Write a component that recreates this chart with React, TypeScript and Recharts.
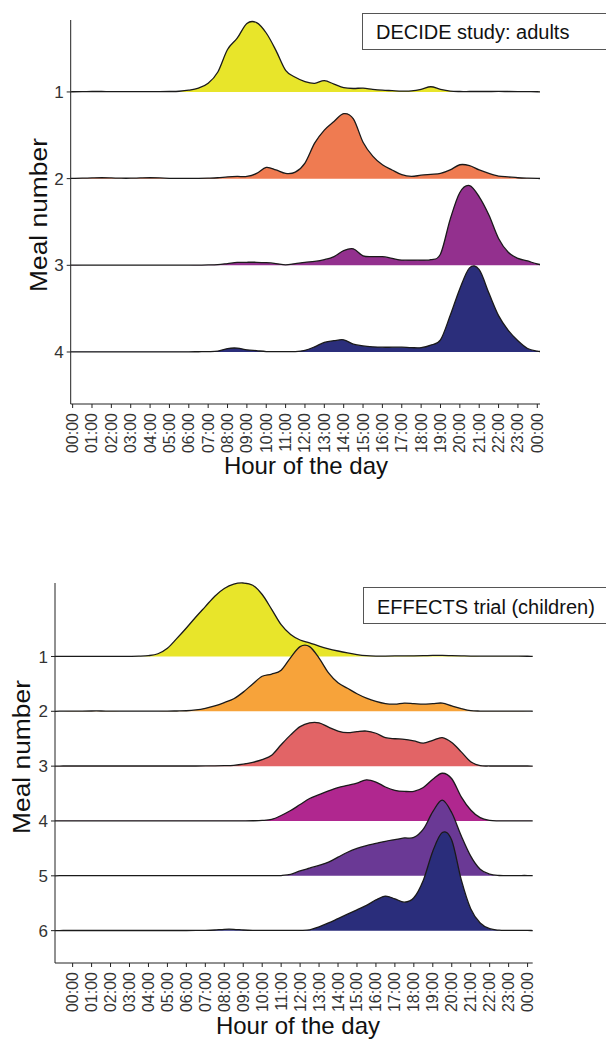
import React from "react";
import { ComposedChart, Area, XAxis, YAxis } from "recharts";

const FONT = "'Liberation Sans', Arial, Helvetica, sans-serif";

// x grid of the density curves (hour of the day)
const HOURS = [
  -1, -0.5,
  0, 0.5, 1, 1.5, 2, 2.5, 3, 3.5, 4, 4.5,
  5, 5.5, 6, 6.5, 7, 7.5, 8, 8.5, 9, 9.5,
  10, 10.5, 11, 11.5, 12, 12.5, 13, 13.5, 14, 14.5,
  15, 15.5, 16, 16.5, 17, 17.5, 18, 18.5, 19, 19.5,
  20, 20.5, 21, 21.5, 22, 22.5, 23, 23.5, 24, 24.5,
];

const HOUR_TICKS = [0, 1, 2, 3, 4, 5, 6, 7, 8, 9, 10, 11, 12, 13, 14, 15, 16, 17, 18, 19, 20, 21, 22, 23, 24];
const HOUR_LABELS = [
  "00:00", "01:00", "02:00", "03:00", "04:00", "05:00", "06:00", "07:00", "08:00",
  "09:00", "10:00", "11:00", "12:00", "13:00", "14:00", "15:00", "16:00", "17:00",
  "18:00", "19:00", "20:00", "21:00", "22:00", "23:00", "00:00",
];

// DECIDE study: adults (ridge heights, in units of the row spacing)
const ADULT_MEALS = ["1", "2", "3", "4"];
const ADULT_COLORS = ["#E8E52A", "#EF7B51", "#93308E", "#2B2E7B"];
const ADULT_MEAL1 = [
  0, 0,
  0.002, 0.003, 0.005, 0.005, 0.004, 0.003, 0.003, 0.003, 0.004, 0.004,
  0.005, 0.008, 0.02, 0.045, 0.1, 0.23, 0.49, 0.62, 0.79, 0.8,
  0.68, 0.48, 0.25, 0.17, 0.12, 0.1, 0.13, 0.09, 0.05, 0.04,
  0.045, 0.03, 0.02, 0.015, 0.01, 0.012, 0.03, 0.06, 0.03, 0.01,
  0.005, 0.005, 0.005, 0.005, 0.006, 0.005, 0.004, 0.003, 0.002, 0,
];
const ADULT_MEAL2 = [
  0, 0.002,
  0.003, 0.005, 0.008, 0.01, 0.008, 0.005, 0.005, 0.008, 0.01, 0.008,
  0.004, 0.003, 0.003, 0.004, 0.006, 0.01, 0.02, 0.025, 0.025, 0.06,
  0.13, 0.1, 0.06, 0.075, 0.18, 0.41, 0.56, 0.66, 0.75, 0.69,
  0.42, 0.26, 0.16, 0.1, 0.045, 0.025, 0.04, 0.05, 0.06, 0.1,
  0.16, 0.15, 0.1, 0.06, 0.03, 0.02, 0.01, 0.005, 0.002, 0,
];
const ADULT_MEAL3 = [
  0, 0.002,
  0.003, 0.002, 0.002, 0.002, 0.002, 0.002, 0.002, 0.002, 0.002, 0.002,
  0.002, 0.002, 0.002, 0.003, 0.004, 0.008, 0.02, 0.033, 0.035, 0.035,
  0.03, 0.02, 0.006, 0.02, 0.035, 0.045, 0.065, 0.1, 0.17, 0.19,
  0.11, 0.1, 0.1, 0.08, 0.06, 0.06, 0.06, 0.065, 0.13, 0.53,
  0.84, 0.92, 0.79, 0.58, 0.31, 0.15, 0.08, 0.05, 0.015, 0,
];
const ADULT_MEAL4 = [
  0, 0.002,
  0.002, 0.002, 0.002, 0.002, 0.002, 0.002, 0.002, 0.002, 0.002, 0.002,
  0.002, 0.002, 0.002, 0.003, 0.004, 0.01, 0.04, 0.045, 0.025, 0.015,
  0.005, 0.004, 0.004, 0.005, 0.02, 0.06, 0.11, 0.13, 0.14, 0.09,
  0.07, 0.06, 0.055, 0.055, 0.055, 0.05, 0.05, 0.08, 0.14, 0.42,
  0.73, 0.97, 0.95, 0.68, 0.42, 0.25, 0.13, 0.04, 0.01, 0,
];

// EFFECTS trial (children)
const CHILD_MEALS = ["1", "2", "3", "4", "5", "6"];
const CHILD_COLORS = ["#E8E52A", "#F7A33A", "#E26466", "#B0278F", "#6A3995", "#2A2D7B"];
const CHILD_MEAL1 = [
  0, 0.002,
  0.003, 0.003, 0.003, 0.003, 0.003, 0.003, 0.003, 0.005, 0.015, 0.05,
  0.15, 0.33, 0.52, 0.72, 0.91, 1.1, 1.24, 1.32, 1.34, 1.3,
  1.13, 0.86, 0.58, 0.4, 0.3, 0.25, 0.19, 0.14, 0.1, 0.065,
  0.035, 0.015, 0.008, 0.008, 0.01, 0.01, 0.012, 0.015, 0.02, 0.02,
  0.015, 0.01, 0.008, 0.005, 0.005, 0.005, 0.005, 0.005, 0.004, 0,
];
const CHILD_MEAL2 = [
  0, 0.003,
  0.004, 0.005, 0.006, 0.006, 0.004, 0.003, 0.003, 0.003, 0.003, 0.003,
  0.004, 0.006, 0.01, 0.025, 0.055, 0.1, 0.16, 0.23, 0.35, 0.5,
  0.64, 0.68, 0.75, 0.98, 1.18, 1.18, 0.97, 0.7, 0.52, 0.42,
  0.32, 0.24, 0.18, 0.14, 0.13, 0.15, 0.14, 0.13, 0.14, 0.15,
  0.1, 0.05, 0.012, 0.005, 0.004, 0.004, 0.004, 0.004, 0.003, 0,
];
const CHILD_MEAL3 = [
  0, 0.003,
  0.003, 0.003, 0.003, 0.003, 0.003, 0.003, 0.003, 0.003, 0.003, 0.003,
  0.003, 0.003, 0.003, 0.003, 0.004, 0.005, 0.008, 0.015, 0.035, 0.07,
  0.12, 0.2, 0.39, 0.57, 0.72, 0.79, 0.79, 0.71, 0.64, 0.61,
  0.63, 0.64, 0.6, 0.52, 0.5, 0.49, 0.46, 0.42, 0.47, 0.52,
  0.43, 0.26, 0.08, 0.01, 0.003, 0.003, 0.003, 0.003, 0.003, 0,
];
const CHILD_MEAL4 = [
  0, 0.003,
  0.003, 0.003, 0.003, 0.003, 0.003, 0.003, 0.003, 0.003, 0.003, 0.003,
  0.003, 0.003, 0.003, 0.003, 0.003, 0.003, 0.003, 0.003, 0.003, 0.004,
  0.01, 0.03, 0.1, 0.19, 0.3, 0.41, 0.48, 0.55, 0.61, 0.65,
  0.69, 0.75, 0.71, 0.62, 0.56, 0.54, 0.54, 0.61, 0.76, 0.87,
  0.77, 0.44, 0.2, 0.06, 0.01, 0.003, 0.003, 0.003, 0.003, 0,
];
const CHILD_MEAL5 = [
  0, 0.003,
  0.003, 0.003, 0.003, 0.003, 0.003, 0.003, 0.003, 0.003, 0.003, 0.003,
  0.003, 0.003, 0.003, 0.003, 0.003, 0.003, 0.003, 0.003, 0.003, 0.003,
  0.003, 0.003, 0.005, 0.025, 0.09, 0.14, 0.19, 0.25, 0.34, 0.43,
  0.5, 0.55, 0.59, 0.63, 0.66, 0.69, 0.7, 0.85, 1.17, 1.38,
  1.15, 0.73, 0.36, 0.12, 0.03, 0.006, 0.005, 0.005, 0.005, 0,
];
const CHILD_MEAL6 = [
  0, 0.003,
  0.003, 0.003, 0.003, 0.003, 0.003, 0.003, 0.003, 0.003, 0.003, 0.003,
  0.003, 0.003, 0.003, 0.004, 0.006, 0.012, 0.025, 0.025, 0.012, 0.005,
  0.004, 0.004, 0.004, 0.004, 0.006, 0.015, 0.07, 0.14, 0.22, 0.3,
  0.38, 0.46, 0.56, 0.63, 0.58, 0.52, 0.6, 0.92, 1.45, 1.79,
  1.65, 0.93, 0.4, 0.14, 0.035, 0.008, 0.005, 0.005, 0.004, 0,
];

// Catmull-Rom curve in the d3 curve-factory shape, so peaks stay rounded
// instead of flattening like the monotone interpolation does
function smoothCurve(context: any) {
  let line = NaN;
  let pts: number[][] = [];
  return {
    areaStart() { line = 0; },
    areaEnd() { line = NaN; },
    lineStart() { pts = []; },
    lineEnd() {
      const n = pts.length;
      if (n) {
        if (line) context.lineTo(pts[0][0], pts[0][1]);
        else context.moveTo(pts[0][0], pts[0][1]);
        for (let i = 0; i < n - 1; i++) {
          const p0 = pts[Math.max(i - 1, 0)];
          const p1 = pts[i];
          const p2 = pts[i + 1];
          const p3 = pts[Math.min(i + 2, n - 1)];
          context.bezierCurveTo(
            p1[0] + (p2[0] - p0[0]) / 6, p1[1] + (p2[1] - p0[1]) / 6,
            p2[0] - (p3[0] - p1[0]) / 6, p2[1] - (p3[1] - p1[1]) / 6,
            p2[0], p2[1],
          );
        }
      }
      if (line || (line !== 0 && n === 1)) context.closePath();
      line = 1 - line;
    },
    point(x: number, y: number) { pts.push([+x, +y]); },
  };
}

const HourTick = (props: any) => {
  const { x, y, payload } = props;
  const label = HOUR_LABELS[HOUR_TICKS.indexOf(payload.value)];
  return (
    <text
      transform={`translate(${x},${y + 3}) rotate(-90)`}
      textAnchor="end"
      dominantBaseline="central"
      fontSize={16}
      fill="#333"
      fontFamily={FONT}
    >
      {label}
    </text>
  );
};

type RidgeProps = {
  meals: string[];
  densities: number[][];
  colors: string[];
  height: number;
  margin: { top: number; right: number; bottom: number; left: number };
  yAxisWidth: number;
  xAxisHeight: number;
  xDomain: [number, number];
  yDomain: [number, number];
};

function Ridgeline({ meals, densities, colors, height, margin, yAxisWidth, xAxisHeight, xDomain, yDomain }: RidgeProps) {
  const n = meals.length;
  // meal 1 sits on the top row, the last meal on row 0
  const data = HOURS.map((hour, i) => {
    const row: Record<string, number> = { hour };
    densities.forEach((d, k) => {
      row[`m${k}`] = n - 1 - k + d[i];
    });
    return row;
  });
  const rowTicks = meals.map((_, k) => n - 1 - k).reverse();

  return (
    <ComposedChart width={606} height={height} data={data} margin={margin}>
      <XAxis
        dataKey="hour"
        type="number"
        domain={xDomain}
        allowDataOverflow
        ticks={HOUR_TICKS}
        interval={0}
        tick={<HourTick />}
        tickSize={4}
        height={xAxisHeight}
        stroke="#222"
        tickLine={{ stroke: "#222" }}
      />
      <YAxis
        type="number"
        domain={yDomain}
        ticks={rowTicks}
        interval={0}
        tickFormatter={(v: number) => meals[n - 1 - v]}
        width={yAxisWidth}
        tickSize={4}
        tickMargin={3}
        stroke="#222"
        tick={{ fontSize: 17, fill: "#333", fontFamily: FONT }}
      />
      {meals.map((m, k) => (
        <Area
          key={m}
          dataKey={`m${k}`}
          type={smoothCurve as any}
          baseValue={n - 1 - k}
          stroke="#1a1a1a"
          strokeWidth={1.3}
          fill={colors[k]}
          fillOpacity={1}
          dot={false}
          activeDot={false}
          isAnimationActive={false}
        />
      ))}
    </ComposedChart>
  );
}

export default function App() {
  return (
    <div
      style={{
        position: "absolute",
        left: 0,
        top: 0,
        width: 606,
        height: 1039,
        overflow: "hidden",
        background: "#fff",
      }}
    >
      <div style={{ position: "absolute", left: 0, top: 0 }}>
        <Ridgeline
          meals={ADULT_MEALS}
          densities={[ADULT_MEAL1, ADULT_MEAL2, ADULT_MEAL3, ADULT_MEAL4]}
          colors={ADULT_COLORS}
          height={500}
          margin={{ top: 20, right: 66, bottom: 0, left: 0 }}
          yAxisWidth={70.7}
          xAxisHeight={96}
          xDomain={[-0.1, 24.14]}
          yDomain={[-0.6, 3.83]}
        />
      </div>
      <div style={{ position: "absolute", left: 0, top: 540 }}>
        <Ridgeline
          meals={CHILD_MEALS}
          densities={[CHILD_MEAL1, CHILD_MEAL2, CHILD_MEAL3, CHILD_MEAL4, CHILD_MEAL5, CHILD_MEAL6]}
          colors={CHILD_COLORS}
          height={499}
          margin={{ top: 43, right: 73.3, bottom: 0, left: 0 }}
          yAxisWidth={55}
          xAxisHeight={76}
          xDomain={[-0.93, 24.27]}
          yDomain={[-0.59, 6.34]}
        />
      </div>
      <svg
        width={606}
        height={1039}
        style={{ position: "absolute", left: 0, top: 0, pointerEvents: "none" }}
        fontFamily={FONT}
      >
        <rect x={362.5} y={13.5} width={300} height={36} fill="#fff" stroke="#555" strokeWidth={1} />
        <text x={376} y={39} fontSize={20} fill="#111">DECIDE study: adults</text>
        <rect x={363.5} y={587.5} width={300} height={36} fill="#fff" stroke="#555" strokeWidth={1} />
        <text x={377} y={614} fontSize={20} fill="#111">EFFECTS trial (children)</text>

        <text x={306} y={474} fontSize={24} textAnchor="middle" fill="#111">Hour of the day</text>
        <text x={298} y={1034} fontSize={24} textAnchor="middle" fill="#111">Hour of the day</text>
        <text transform="translate(47,215) rotate(-90) scale(1.1,1)" fontSize={24} textAnchor="middle" fill="#111">Meal number</text>
        <text transform="translate(30,757) rotate(-90) scale(1.1,1)" fontSize={24} textAnchor="middle" fill="#111">Meal number</text>
      </svg>
    </div>
  );
}
